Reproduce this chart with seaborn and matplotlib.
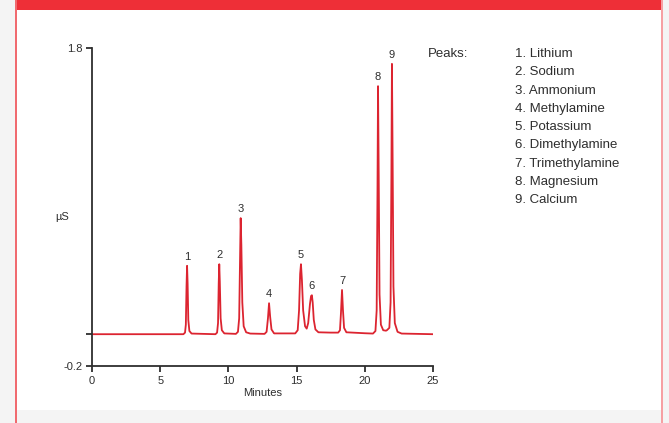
import matplotlib
matplotlib.use("Agg")
import seaborn as sns
from matplotlib import pyplot as plt
from matplotlib.patches import Rectangle

# chromatogram trace (minutes, uS)
trace_time = [
    0.00, 3.00, 6.60,
    6.70, 6.82, 6.88, 6.93, 6.97, 7.01, 7.06, 7.14, 7.30,
    9.05, 9.17, 9.24, 9.29, 9.33, 9.37, 9.43, 9.52, 9.70,
    10.55, 10.70, 10.79, 10.85, 10.90, 10.95, 11.02, 11.12, 11.30, 11.60,
    12.65, 12.80, 12.90, 12.98, 13.06, 13.16, 13.35,
    14.90, 15.08, 15.18, 15.26, 15.32, 15.39, 15.48, 15.62, 15.74,
    15.85, 15.98, 16.06, 16.12, 16.18, 16.26, 16.38, 16.60, 17.50,
    18.05, 18.18, 18.25, 18.33, 18.40, 18.48, 18.65, 20.00,
    20.60, 20.78, 20.87, 20.93, 20.97, 21.02, 21.08, 21.18, 21.35, 21.55,
    21.62, 21.80, 21.89, 21.95, 21.99, 22.04, 22.10, 22.20, 22.40, 22.70,
    25.00,
]
trace_signal = [
    0.000, 0.000, 0.000,
    0.000, 0.010, 0.060, 0.300, 0.430, 0.320, 0.090, 0.020, 0.004,
    0.000, 0.010, 0.070, 0.320, 0.440, 0.330, 0.100, 0.025, 0.005,
    0.002, 0.015, 0.100, 0.450, 0.730, 0.560, 0.200, 0.050, 0.012, 0.004,
    0.002, 0.015, 0.100, 0.195, 0.110, 0.030, 0.005,
    0.005, 0.025, 0.150, 0.380, 0.440, 0.340, 0.150, 0.050, 0.035,
    0.070, 0.190, 0.240, 0.245, 0.200, 0.090, 0.030, 0.012, 0.010,
    0.010, 0.025, 0.130, 0.278, 0.150, 0.040, 0.012, 0.006,
    0.004, 0.020, 0.150, 0.900, 1.560, 1.000, 0.250, 0.060, 0.025, 0.022,
    0.025, 0.040, 0.200, 1.000, 1.700, 1.100, 0.300, 0.070, 0.015, 0.004,
    0.000,
]

peak_numbers = ["1", "2", "3", "4", "5", "6", "7", "8", "9"]
peak_times = [6.97, 9.33, 10.90, 12.98, 15.32, 16.12, 18.33, 20.97, 21.99]
peak_heights = [0.430, 0.440, 0.730, 0.195, 0.440, 0.245, 0.278, 1.560, 1.700]
peak_names = [
    "Lithium", "Sodium", "Ammonium", "Methylamine", "Potassium",
    "Dimethylamine", "Trimethylamine", "Magnesium", "Calcium",
]

x_ticks = [0, 5, 10, 15, 20, 25]
y_ticks = [-0.2, 0.0, 1.8]
y_tick_labels = ["-0.2", "", "1.8"]

W, H = 669, 423
RED = "#ee2f37"
LINE_RED = "#dc2430"
INK = "#2e2e2e"

sns.set_theme(style="ticks")
plt.rcParams["font.family"] = ["Liberation Sans", "DejaVu Sans"]

fig = plt.figure(figsize=(W / 100, H / 100), dpi=100)
fig.patch.set_facecolor("#f4f4f4")


def px(x, y):
    return x / W, 1 - y / H


# white panel with red border and red header bar (kept behind the axes)
fig.patches.append(Rectangle(px(16, 410), (662 - 16) / W, 410 / H, transform=fig.transFigure,
                             facecolor="white", edgecolor="none", zorder=-3))
fig.patches.append(Rectangle(px(16, 10), (662 - 16) / W, 10 / H, transform=fig.transFigure,
                             facecolor=RED, edgecolor="none", zorder=-2))
fig.patches.append(Rectangle(px(15, H), 1.5 / W, 1, transform=fig.transFigure,
                             facecolor="#f06a6f", edgecolor="none", zorder=-2))
fig.patches.append(Rectangle(px(661, H), 1.5 / W, 1, transform=fig.transFigure,
                             facecolor="#f6a0a3", edgecolor="none", zorder=-2))

ax = fig.add_axes([92 / W, 1 - 366 / H, (433 - 92) / W, (366 - 48) / H])
ax.set_facecolor("none")

sns.lineplot(x=trace_time, y=trace_signal, ax=ax, color=LINE_RED, linewidth=1.3,
             estimator=None, sort=False)

for num, t, h in zip(peak_numbers, peak_times, peak_heights):
    ax.annotate(num, (t, h), xytext=(0, 3), textcoords="offset points",
                ha="center", va="bottom", fontsize=8, color=INK)

ax.set_xlim(0, 25)
ax.set_ylim(-0.2, 1.8)
ax.set_xticks(x_ticks)
ax.set_yticks(y_ticks)
ax.set_yticklabels(y_tick_labels)
ax.tick_params(axis="both", direction="out", length=4.5, width=1.3, color=INK,
               labelsize=8, labelcolor=INK, pad=2.5)
sns.despine(ax=ax)
for side in ["left", "bottom"]:
    ax.spines[side].set_linewidth(1.3)
    ax.spines[side].set_color(INK)

ax.set_xlabel("Minutes", fontsize=8, color=INK, labelpad=1.5)
ax.set_ylabel("µS", fontsize=8, color=INK, rotation=0, va="center", ha="center")
ax.yaxis.set_label_coords(-0.088, 0.47)

# peak legend block
fig.text(428 / W, 1 - 54 / H, "Peaks:", fontsize=9.5, color=INK, va="center", ha="left")
for i, name in enumerate(peak_names):
    fig.text(515 / W, 1 - (54 + i * 18.25) / H, f"{peak_numbers[i]}. {name}",
             fontsize=9.5, color=INK, va="center", ha="left")

fig.savefig("out.png", dpi=100, facecolor=fig.get_facecolor())
